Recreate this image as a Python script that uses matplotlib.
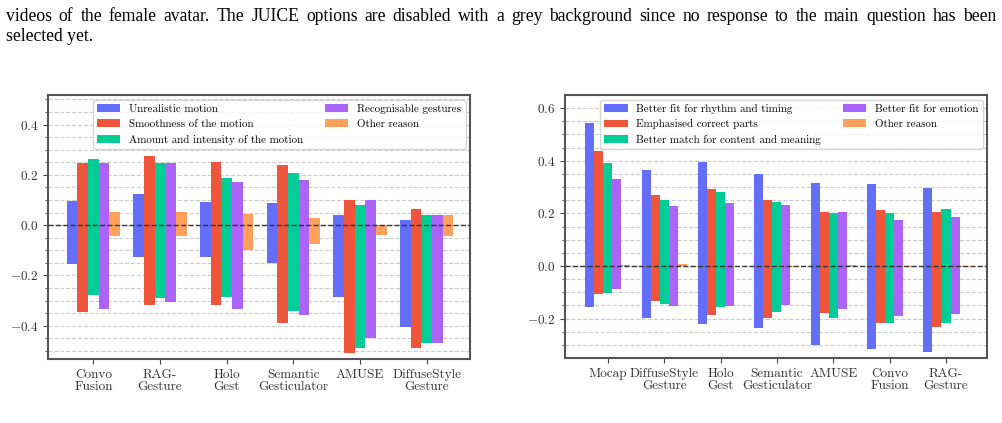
import numpy as np
import matplotlib
matplotlib.use("Agg")
import matplotlib.pyplot as plt
from matplotlib.ticker import MultipleLocator

plt.rcParams["font.family"] = ["cmr10", "DejaVu Serif"]
plt.rcParams["mathtext.fontset"] = "cm"
plt.rcParams["axes.formatter.use_mathtext"] = True

colors = ["#636EFA", "#EF553B", "#00CC96", "#AB63FA", "#FFA15A"]

# left panel: reasons for choosing the less natural motion
left_models = ["Convo\nFusion", "RAG-\nGesture", "Holo\nGest", "Semantic\nGesticulator",
               "AMUSE", "DiffuseStyle\nGesture"]
left_labels = ["Unrealistic motion", "Smoothness of the motion",
               "Amount and intensity of the motion", "Recognisable gestures", "Other reason"]
left_pos = [
    [0.097, 0.124, 0.092, 0.088, 0.040, 0.020],
    [0.249, 0.276, 0.252, 0.240, 0.100, 0.064],
    [0.264, 0.249, 0.188, 0.208, 0.080, 0.040],
    [0.249, 0.249, 0.172, 0.180, 0.100, 0.040],
    [0.052, 0.052, 0.044, 0.028, 0.000, 0.040],
]
left_neg = [
    [-0.155, -0.128, -0.128, -0.151, -0.287, -0.405],
    [-0.347, -0.319, -0.319, -0.391, -0.510, -0.490],
    [-0.279, -0.291, -0.287, -0.343, -0.490, -0.470],
    [-0.335, -0.307, -0.335, -0.359, -0.450, -0.470],
    [-0.045, -0.045, -0.097, -0.077, -0.041, -0.045],
]

# right panel: reasons for choosing the better-matching motion
right_models = ["Mocap", "DiffuseStyle\nGesture", "Holo\nGest", "Semantic\nGesticulator",
                "AMUSE", "Convo\nFusion", "RAG-\nGesture"]
right_labels = ["Better fit for rhythm and timing", "Emphasised correct parts",
                "Better match for content and meaning", "Better fit for emotion", "Other reason"]
right_pos = [
    [0.543, 0.363, 0.394, 0.348, 0.317, 0.310, 0.298],
    [0.436, 0.271, 0.294, 0.250, 0.206, 0.214, 0.206],
    [0.390, 0.252, 0.283, 0.245, 0.200, 0.203, 0.218],
    [0.332, 0.227, 0.241, 0.233, 0.206, 0.176, 0.187],
    [0.002, 0.006, 0.001, 0.000, 0.004, 0.000, 0.000],
]
right_neg = [
    [-0.157, -0.196, -0.219, -0.237, -0.301, -0.316, -0.328],
    [-0.108, -0.134, -0.185, -0.199, -0.180, -0.218, -0.233],
    [-0.104, -0.146, -0.157, -0.176, -0.199, -0.218, -0.218],
    [-0.086, -0.153, -0.151, -0.147, -0.165, -0.191, -0.184],
    [0.000, 0.000, 0.000, -0.003, 0.000, -0.003, -0.003],
]

caption1 = ("videos of the female avatar.  The JUICE options are disabled with a grey background "
            "since no response to the main question has been")
caption2 = "selected yet."

fig = plt.figure(figsize=(10.02, 4.23), dpi=100)
renderer = fig.canvas.get_renderer()

# first caption line is justified to the full width, like the paper's text
cap_kw = dict(family="Liberation Serif", fontsize=12.7, va="baseline")
words = caption1.split()
texts = [fig.text(0, 0.951, w, **cap_kw) for w in words]
widths = [t.get_window_extent(renderer).width for t in texts]
x0, x1 = 6, 996
gap = (x1 - x0 - sum(widths)) / (len(words) - 1)
xpos = x0
for t, wd in zip(texts, widths):
    t.set_x(xpos / 1002)
    xpos += wd + gap
fig.text(6 / 1002, 0.904, caption2, **cap_kw)

ax1 = fig.add_axes([0.048, 0.151, 0.421, 0.624])
ax2 = fig.add_axes([0.564, 0.154, 0.421, 0.621])


def draw(ax, models, labels, pos, neg, ylim, xlim):
    x = np.arange(len(models))
    w = 0.16
    for i, lab in enumerate(labels):
        xi = x + (i - 2) * w
        ax.bar(xi, pos[i], w, color=colors[i], label=lab, zorder=2)
        ax.bar(xi, neg[i], w, color=colors[i], zorder=2)
    ax.axhline(0, color="#333333", ls="--", lw=1.0, zorder=3)
    ax.set_xticks(x)
    ax.set_xticklabels(models, fontsize=9.5, color="#333333", linespacing=1.0)
    ax.set_ylim(*ylim)
    ax.set_xlim(*xlim)
    ax.yaxis.set_major_locator(MultipleLocator(0.2))
    ax.yaxis.set_minor_locator(MultipleLocator(0.05))
    ax.tick_params(axis="y", labelsize=9.5, labelcolor="#333333", color="#444444")
    ax.tick_params(axis="x", color="#444444", length=3.5)
    ax.tick_params(which="minor", length=2, color="#444444")
    ax.grid(axis="y", which="both", ls="--", color="#cccccc", lw=0.8)
    ax.set_axisbelow(True)
    for s in ax.spines.values():
        s.set_color("#555555")
        s.set_linewidth(1.5)
    ax.legend(loc="upper right", ncol=2, fontsize=7.9, handlelength=2.1,
              columnspacing=2.0, borderaxespad=0.4, edgecolor="#cccccc")


draw(ax1, left_models, left_labels, left_pos, left_neg, (-0.533, 0.517), (-0.68, 5.65))
draw(ax2, right_models, right_labels, right_pos, right_neg, (-0.349, 0.649), (-0.757, 6.727))

fig.savefig("out.png", dpi=100)
